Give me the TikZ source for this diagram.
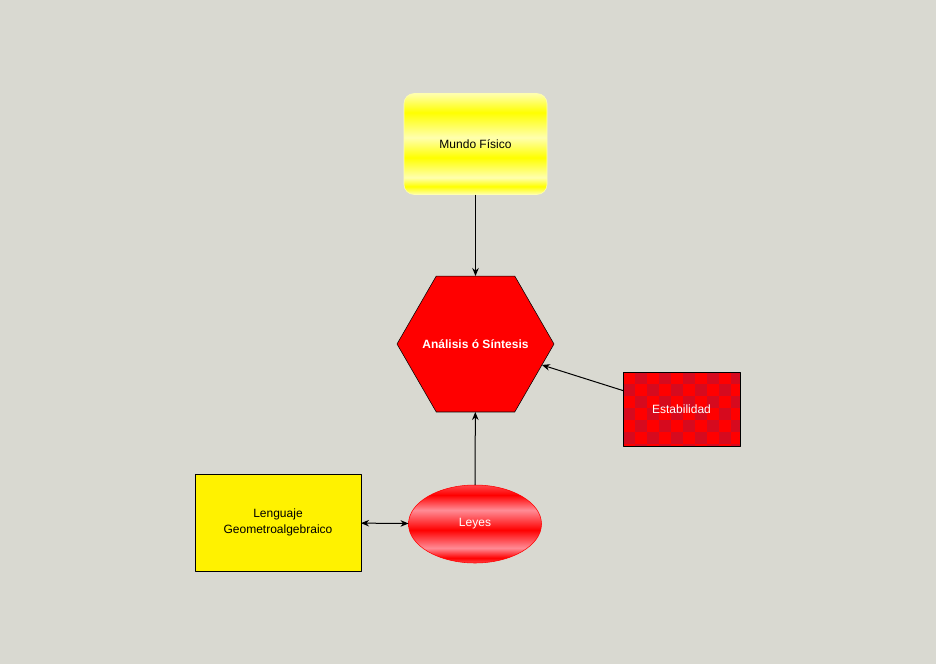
\documentclass[tikz,border=0pt]{standalone}
\usepackage{fontspec}
\setmainfont{Liberation Sans}
\usetikzlibrary{shapes.geometric,arrows.meta}
\definecolor{bgcol}{RGB}{217,217,209}
\definecolor{paleyel}{RGB}{255,255,175}
\definecolor{pinkred}{RGB}{255,140,150}
\definecolor{darkchk}{RGB}{214,10,30}
\newcommand{\px}{0.75pt}
\pgfdeclareverticalshading{mundoshade}{100bp}{color(0bp)=(paleyel); color(25bp)=(paleyel); color(29bp)=(yellow); color(33.4bp)=(paleyel); color(43.3bp)=(yellow); color(53.2bp)=(paleyel); color(65.6bp)=(yellow); color(75bp)=(paleyel); color(100bp)=(paleyel)}
\pgfdeclareverticalshading{leyesshade}{100bp}{color(0bp)=(red); color(25bp)=(pinkred!50!red); color(28.2bp)=(red); color(34.6bp)=(pinkred); color(46.2bp)=(red); color(59bp)=(pinkred); color(68.6bp)=(red); color(75bp)=(pinkred!50!red); color(100bp)=(red)}
\begin{document}
\begin{tikzpicture}[x=\px,y=-\px,>={Stealth[length=8*\px,width=6.5*\px]},font=\fontsize{9}{12}\selectfont,line join=round]
	\tikzset{concept/.style={inner sep=0pt, outer sep=0pt, align=center},
		link/.style={->, line width=\px}}
	\fill[bgcol] (0,0) rectangle (936,664);
	\useasboundingbox (0,0) rectangle (936,664);
	\node[concept, rounded corners=7.5pt, draw=paleyel, shading=mundoshade, minimum width=143*\px, minimum height=101*\px] (mundo) at (475.5,144) {Mundo Físico};
	\node[concept, regular polygon, regular polygon sides=6, draw=black, fill=red, text=white, minimum size=157*\px] (hex) at (475.5,344) {\makebox[0pt]{\textbf{Análisis ó Síntesis}}};
	\node[concept, draw=black, fill=red, text=white, minimum width=117*\px, minimum height=74*\px,
		path picture={
			\foreach \i in {0,...,9}
			\foreach \j in {0,...,6}{
				\pgfmathtruncatemacro\odd{mod(\i+\j,2)}
				\ifnum\odd=1
				\fill[darkchk] ([shift={(12*\i,12*\j)}]path picture bounding box.north west) rectangle +(12,12);
				\fi
			}
		}] (estab) at (681.5,409) {Estabilidad};
	\node[concept, ellipse, draw=red, shading=leyesshade, text=white, minimum width=133*\px, minimum height=78*\px] (leyes) at (475,524) {Leyes};
	\node[concept, draw=black, fill=yellow, minimum width=166*\px, minimum height=97*\px] (lengua) at (278,522.5) {Lenguaje\\Geometroalgebraico};
	% connectors
	\draw[link] (mundo) -- (hex);
	\draw[link] (leyes) -- (hex);
	\draw[link] (estab) -- (hex);
	\draw[link, <->] (lengua) -- (leyes);
\end{tikzpicture}
\end{document}
